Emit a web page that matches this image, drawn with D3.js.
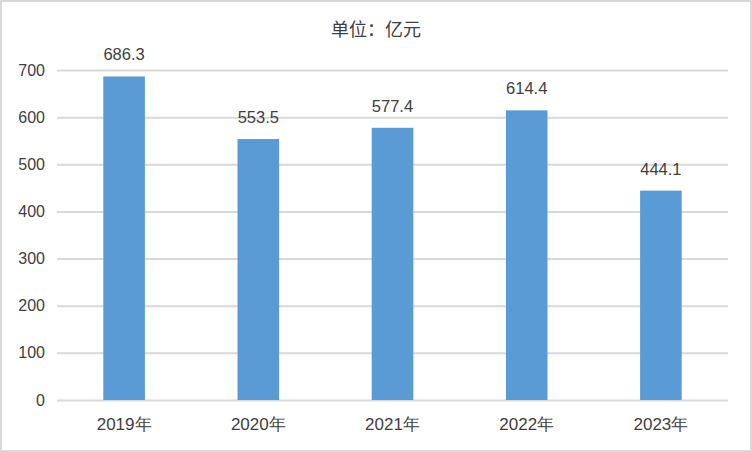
<!DOCTYPE html>
<html><head><meta charset="utf-8">
<script src="https://cdn.jsdelivr.net/npm/d3@7"></script>
<style>
html,body{margin:0;padding:0;background:#fff;}
svg{display:block;font-family:"Noto Sans CJK SC","Noto Sans",sans-serif;}
</style></head>
<body><svg id="c" width="752" height="452"></svg>
<script>
const categories = ["2019年","2020年","2021年","2022年","2023年"];
const values = [686.3, 553.5, 577.4, 614.4, 444.1];
const yTicks = [0,100,200,300,400,500,600,700];
const title = "单位：亿元";

const W = 752, H = 452;
const m = {left:57, right:24, top:70, bottom:52};
const svg = d3.select("#c");
svg.append("rect").attr("x",1).attr("y",1).attr("width",W-2).attr("height",H-2)
  .attr("fill","#fff").attr("stroke","#d9d9d9").attr("stroke-width",2);

const x = d3.scaleBand().domain(categories).range([m.left, W-m.right]).paddingInner(0.69).paddingOuter(0.345);
const y = d3.scaleLinear().domain([0,700]).range([H-m.bottom, m.top]);

const yAxis = svg.append("g").attr("transform",`translate(${m.left},0)`)
  .call(d3.axisLeft(y).tickValues(yTicks).tickSize(-(W-m.left-m.right)).tickPadding(12));
yAxis.select(".domain").remove();
yAxis.selectAll(".tick line").attr("stroke","#d9d9d9").attr("stroke-width",2);
yAxis.selectAll(".tick text").attr("fill","#404040").attr("font-size",16)
  .attr("font-family","'Liberation Sans','Noto Sans',sans-serif");

svg.append("g").selectAll("rect").data(values).join("rect")
  .attr("x",(d,i)=>x(categories[i])).attr("width",x.bandwidth())
  .attr("y",d=>y(d)).attr("height",d=>y(0)-y(d)).attr("fill","#5b9bd5");

svg.append("g").selectAll("text").data(values).join("text")
  .attr("x",(d,i)=>x(categories[i])+x.bandwidth()/2).attr("y",d=>y(d)-16)
  .attr("text-anchor","middle").attr("fill","#404040").attr("font-size",16.5)
  .attr("font-family","'Liberation Sans','Noto Sans',sans-serif")
  .text(d=>d.toFixed(1));

const xAxis = svg.append("g").attr("transform",`translate(0,${H-m.bottom})`)
  .call(d3.axisBottom(x).tickSize(0).tickPadding(18));
xAxis.select(".domain").remove();
xAxis.selectAll(".tick text").attr("fill","#404040").attr("font-size",17);

svg.append("text").attr("x",W/2).attr("y",36).attr("text-anchor","middle")
  .attr("fill","#404040").attr("font-size",18).text(title);
</script></body></html>
